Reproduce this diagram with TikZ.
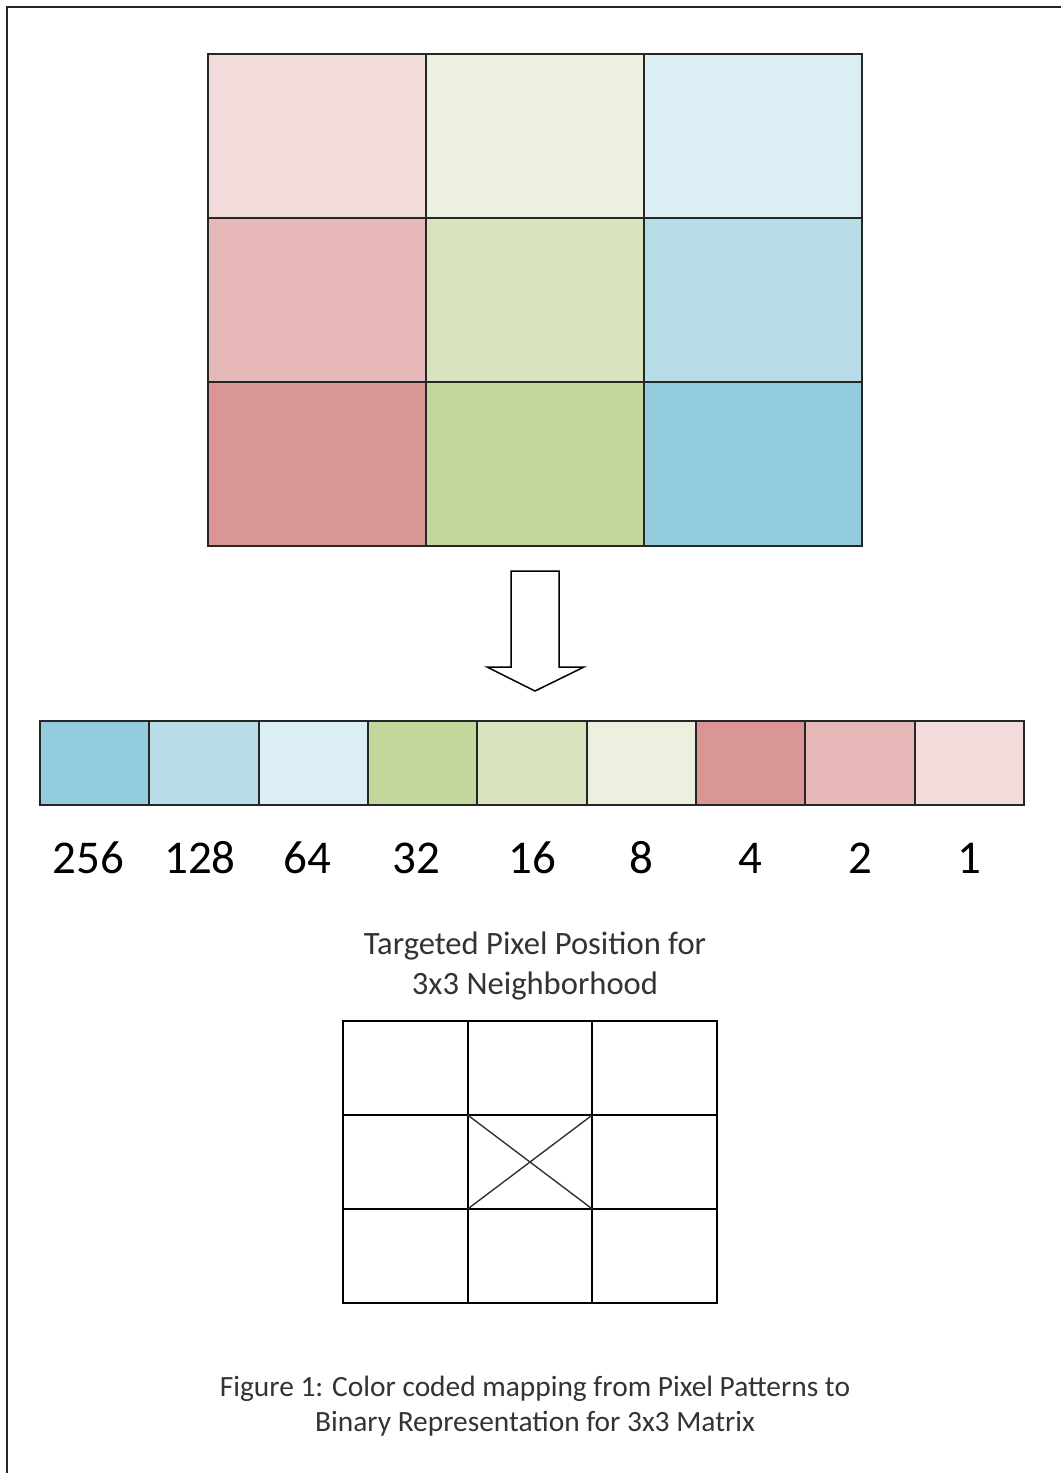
\documentclass[tikz,border=0pt]{standalone}
\usepackage{fontspec}
\setmainfont{Carlito}
\usetikzlibrary{positioning}
\definecolor{rosea}{HTML}{F2DCDB}
\definecolor{roseb}{HTML}{E6B9B8}
\definecolor{rosec}{HTML}{D99694}
\definecolor{greena}{HTML}{EBF1DE}
\definecolor{greenb}{HTML}{D7E4BD}
\definecolor{greenc}{HTML}{C3D69B}
\definecolor{bluea}{HTML}{DBEEF3}
\definecolor{blueb}{HTML}{B7DEE8}
\definecolor{bluec}{HTML}{93CDDD}

\begin{document}
\begin{tikzpicture}[x=0.5pt,y=-0.5pt,
 cell/.style={draw=black!85,line width=1pt,inner sep=0pt,outer sep=0pt,minimum width=109pt,minimum height=82pt},
 bit/.style={draw=black!85,line width=0.9pt,inner sep=0pt,outer sep=0pt,minimum width=54.67pt,minimum height=42pt},
 num/.style={inner sep=0pt,font=\fontsize{23.5}{28}\selectfont},
 blank/.style={draw,line width=0.9pt,inner sep=0pt,outer sep=0pt,minimum width=62.33pt,minimum height=47pt},
 note/.style={align=center,text=black!80,font=\fontsize{16.3}{20}\selectfont}]
 \useasboundingbox (0,0) rectangle (1061,1473);
 \draw[black!85,line width=1pt] (7,1473) -- (7,7) -- (1061,7);
 % pixel pattern
 \node[cell,fill=rosea](p1) at (317,136) {};
 \node[cell,fill=greena,right=0pt of p1](g1) {};
 \node[cell,fill=bluea,right=0pt of g1](b1) {};
 \node[cell,fill=roseb,below=0pt of p1](p2) {};
 \node[cell,fill=greenb,right=0pt of p2](g2) {};
 \node[cell,fill=blueb,right=0pt of g2](b2) {};
 \node[cell,fill=rosec,below=0pt of p2](p3) {};
 \node[cell,fill=greenc,right=0pt of p3](g3) {};
 \node[cell,fill=bluec,right=0pt of g3](b3) {};
 % block arrow
 \draw[line width=0.75pt] (511,571) -- (559,571) -- (559,667) -- (584,667) -- (535,691) -- (487,667) -- (511,667) -- cycle;
 % binary strip
 \node[bit,fill=bluec](s256) at (94.67,763) {};
 \node[bit,fill=blueb,right=0pt of s256](s128) {};
 \node[bit,fill=bluea,right=0pt of s128](s64) {};
 \node[bit,fill=greenc,right=0pt of s64](s32) {};
 \node[bit,fill=greenb,right=0pt of s32](s16) {};
 \node[bit,fill=greena,right=0pt of s16](s8) {};
 \node[bit,fill=rosec,right=0pt of s8](s4) {};
 \node[bit,fill=roseb,right=0pt of s4](s2) {};
 \node[bit,fill=rosea,right=0pt of s2](s1) {};
 \node[num,below=34pt of s256,anchor=base,xshift=-3pt](l256){256};
 \node[num,below=34pt of s128,anchor=base,xshift=-2pt](l128){128};
 \node[num,below=34pt of s64,anchor=base,xshift=-3pt](l64){64};
 \node[num,below=34pt of s32,anchor=base,xshift=-3pt](l32){32};
 \node[num,below=34pt of s16,anchor=base](l16){16};
 \node[num,below=34pt of s8,anchor=base](l8){8};
 \node[num,below=34pt of s4,anchor=base](l4){4};
 \node[num,below=34pt of s2,anchor=base](l2){2};
 \node[num,below=34pt of s1,anchor=base](l1){1};
 % neighborhood
 \node[note](head) at (535,966) {Targeted Pixel Position for\\3x3 Neighborhood};
 \node[blank](n1) at (405.33,1068) {};
 \node[blank,right=0pt of n1](n2) {};
 \node[blank,right=0pt of n2](n3) {};
 \node[blank,below=0pt of n1](n4) {};
 \node[blank,right=0pt of n4](n5) {};
 \node[blank,right=0pt of n5](n6) {};
 \node[blank,below=0pt of n4](n7) {};
 \node[blank,right=0pt of n7](n8) {};
 \node[blank,right=0pt of n8](n9) {};
 \draw[line width=0.7pt,black!80](n5.north west) -- (n5.south east);
 \draw[line width=0.7pt,black!80](n5.south west) -- (n5.north east);
 \node[note,font=\fontsize{14.7}{17.5}\selectfont](cap) at (535,1406) {Figure 1: Color coded mapping from Pixel Patterns to\\Binary Representation for 3x3 Matrix};
\end{tikzpicture}
\end{document}
